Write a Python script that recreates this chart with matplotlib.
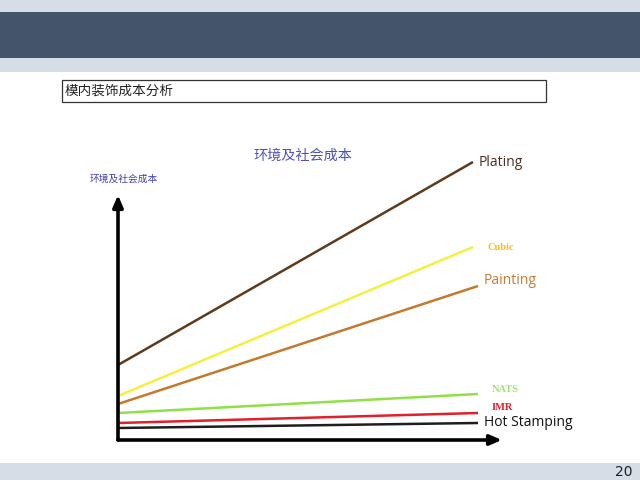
import matplotlib
matplotlib.use("Agg")
import matplotlib.pyplot as plt
from matplotlib.patches import Rectangle

# ---- data (cost units) ----
series = ["Plating", "Cubic", "Painting", "NATS", "IMR", "Hot Stamping"]
start_vals = [75, 44, 36, 27, 17, 12]
end_vals = [278, 193, 154, 46, 27, 17]
end_x = [355, 355, 360, 360, 360, 360]
colors = ["#5e3b1c", "#f4f040", "#c47a2c", "#92e048", "#e0202c", "#1e1e1e"]
label_colors = ["#4a3020", "#f0c020", "#c87a30", "#a8e070", "#e02030", "#111111"]
label_serif = [False, True, False, True, True, False]

page_title = "模内装饰成本分析"
chart_title = "环境及社会成本"
y_label = "环境及社会成本"
page_no = "20"

W, H = 640, 480
fig = plt.figure(figsize=(6.4, 4.8), dpi=100)
fig.patch.set_facecolor("white")

def px_rect(x0, y0, x1, y1, **kw):
    # rectangle in pixel coords (origin top-left)
    fig.patches.append(Rectangle((x0 / W, 1 - y1 / H), (x1 - x0) / W, (y1 - y0) / H,
                                 transform=fig.transFigure, figure=fig, **kw))

# slide background bands
px_rect(0, 0, 640, 12, facecolor="#d6dde6", edgecolor="none")
px_rect(0, 12, 640, 58, facecolor="#44546a", edgecolor="none")
px_rect(0, 58, 640, 72, facecolor="#d6dde6", edgecolor="none")
px_rect(0, 463, 640, 480, facecolor="#d6dde6", edgecolor="none")
px_rect(62, 80, 546, 102, facecolor="white", edgecolor="#333333", linewidth=0.9)

cjk = ["Noto Sans CJK SC", "DejaVu Sans"]
fig.text(65 / W, 1 - 91 / H, page_title, family=cjk, fontsize=9.8, color="#222222", va="center")
fig.text(633 / W, 1 - 472 / H, page_no, family=["DejaVu Sans"], fontsize=10, color="#222222",
         va="center", ha="right")
fig.text(303 / W, 1 - 156 / H, chart_title, family=cjk, fontsize=10.2, color="#5050c0",
         va="center", ha="center")
fig.text(124 / W, 1 - 179 / H, y_label, family=cjk, fontsize=7, color="#4040b0",
         va="center", ha="center")

# chart area: x axis at pixel y=440, from x=118 to 502; y axis up to y=195
ax = fig.add_axes([118 / W, 1 - 440 / H, (502 - 118) / W, (440 - 195) / H])
ax.set_xlim(0, 384)
ax.set_ylim(0, 245)
ax.axis("off")

for name, y0, y1, xe, c, lc, serif in zip(series, start_vals, end_vals, end_x,
                                          colors, label_colors, label_serif):
    ax.plot([0, xe], [y0, y1], color=c, linewidth=1.8, solid_capstyle="butt", clip_on=False)
    if serif:
        ax.text(xe + 14, y1 + 5 if name != "Cubic" else y1, name, family="Liberation Serif",
                fontweight="bold", fontsize=7.5, color=lc, va="center", ha="left")
    else:
        ax.text(xe + 6, y1 + (6 if name == "Painting" else 0),
                name, family="Open Sans", fontsize=10, color=lc, va="center", ha="left")

# axis arrows
arrow = dict(arrowstyle="-|>,head_length=0.7,head_width=0.3", color="black", lw=2.6,
             shrinkA=0, shrinkB=0)
ax.annotate("", xy=(0, 245), xytext=(0, 0), xycoords="data", arrowprops=arrow,
            annotation_clip=False)
ax.annotate("", xy=(384, 0), xytext=(0, 0), xycoords="data", arrowprops=arrow,
            annotation_clip=False)

fig.savefig("out.png", dpi=100, facecolor=fig.get_facecolor())
